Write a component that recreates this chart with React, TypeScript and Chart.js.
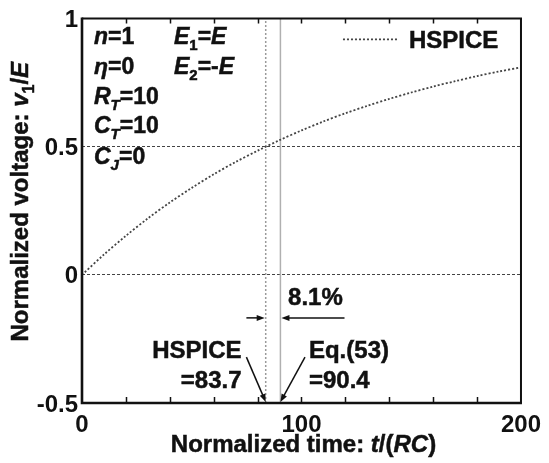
import React, { useEffect, useRef } from "react";
import { Chart, registerables } from "chart.js";

Chart.register(...registerables);

// ---- data ----
const timeValues = [0, 10, 20, 30, 40, 50, 60, 70, 80, 90, 100, 110, 120, 130, 140, 150, 160, 170, 180, 190, 200];
const hspiceVoltage = [0, 0.079, 0.152, 0.22, 0.282, 0.339, 0.392, 0.44, 0.484, 0.525, 0.563, 0.598, 0.63, 0.659, 0.686, 0.711, 0.734, 0.755, 0.775, 0.793, 0.809];
const xTickValues = [0, 100, 200];
const xMinorTicks = [20, 40, 60, 80, 100, 120, 140, 160, 180];
const yTickValues = [-0.5, 0, 0.5, 1];
const yGridValues = [0, 0.5];
const hspiceCrossing = 83.7;
const eqCrossing = 90.4;
const errorLabel = "8.1%";
const seriesLabel = "HSPICE";

type Run = { t: string; it?: boolean; sub?: boolean };

const FAMILY = '"Liberation Sans", Arial, Helvetica, sans-serif';
const TEXT = "#111";

function runFont(r: Run, size: number) {
  const s = r.sub ? Math.round(size * 0.66) : size;
  return `${r.it ? "italic " : ""}bold ${s}px ${FAMILY}`;
}

function drawRich(ctx: CanvasRenderingContext2D, runs: Run[], x: number, y: number, size: number, align: "left" | "center" | "right" = "left") {
  const widths = runs.map((r) => {
    ctx.font = runFont(r, size);
    return ctx.measureText(r.t).width;
  });
  const total = widths.reduce((a, b) => a + b, 0);
  let cx = align === "left" ? x : align === "center" ? x - total / 2 : x - total;
  ctx.textAlign = "left";
  ctx.textBaseline = "alphabetic";
  ctx.strokeStyle = ctx.fillStyle as string;
  ctx.lineWidth = 0.5;
  ctx.setLineDash([]);
  runs.forEach((r, i) => {
    ctx.font = runFont(r, size);
    const yy = y + (r.sub ? size * 0.25 : 0);
    ctx.fillText(r.t, cx, yy);
    ctx.strokeText(r.t, cx, yy);
    cx += widths[i];
  });
}

function arrow(ctx: CanvasRenderingContext2D, x1: number, y1: number, x2: number, y2: number) {
  const ang = Math.atan2(y2 - y1, x2 - x1);
  const hl = 8, hw = 3;
  ctx.beginPath();
  ctx.moveTo(x1, y1);
  ctx.lineTo(x2 - Math.cos(ang) * hl * 0.8, y2 - Math.sin(ang) * hl * 0.8);
  ctx.stroke();
  ctx.beginPath();
  ctx.moveTo(x2, y2);
  ctx.lineTo(x2 - Math.cos(ang) * hl - Math.sin(ang) * hw, y2 - Math.sin(ang) * hl + Math.cos(ang) * hw);
  ctx.lineTo(x2 - Math.cos(ang) * hl + Math.sin(ang) * hw, y2 - Math.sin(ang) * hl - Math.cos(ang) * hw);
  ctx.closePath();
  ctx.fill();
}

const paramRows: Run[][][] = [
  [[{ t: "n", it: true }, { t: "=1" }], [{ t: "E", it: true }, { t: "1", sub: true }, { t: "=" }, { t: "E", it: true }]],
  [[{ t: "η", it: true }, { t: "=0" }], [{ t: "E", it: true }, { t: "2", sub: true }, { t: "=-" }, { t: "E", it: true }]],
  [[{ t: "R", it: true }, { t: "T", it: true, sub: true }, { t: "=10" }]],
  [[{ t: "C", it: true }, { t: "T", it: true, sub: true }, { t: "=10" }]],
  [[{ t: "C", it: true }, { t: "J", it: true, sub: true }, { t: "=0" }]],
];

const overlayPlugin = {
  id: "overlay",
  afterDraw(chart: any) {
    const ctx: CanvasRenderingContext2D = chart.ctx;
    const { left, right, top, bottom } = chart.chartArea;
    const xs = chart.scales.x;
    const ys = chart.scales.y;
    ctx.save();

    // frame
    ctx.strokeStyle = "#111";
    ctx.setLineDash([]);
    ctx.lineWidth = 2;
    ctx.beginPath();
    ctx.moveTo(left, top);
    ctx.lineTo(right, top);
    ctx.lineTo(right, bottom);
    ctx.stroke();
    ctx.lineWidth = 2.6;
    ctx.beginPath();
    ctx.moveTo(left, top - 1);
    ctx.lineTo(left, bottom);
    ctx.lineTo(right + 1, bottom);
    ctx.stroke();

    // inward minor ticks
    ctx.lineWidth = 1.5;
    xMinorTicks.forEach((v) => {
      const px = Math.round(xs.getPixelForValue(v)) + 0.5;
      ctx.beginPath();
      ctx.moveTo(px, bottom);
      ctx.lineTo(px, bottom - 6);
      ctx.moveTo(px, top);
      ctx.lineTo(px, top + 5);
      ctx.stroke();
    });

    // parameters
    ctx.fillStyle = TEXT;
    const baselines = [26, 56, 86, 115, 146];
    paramRows.forEach((row, ri) => {
      row.forEach((cell, ci) => {
        drawRich(ctx, cell, left + (ci === 0 ? 12 : 92), top + baselines[ri], 23);
      });
    });

    // legend
    const ds = chart.data.datasets[0];
    ctx.strokeStyle = ds.borderColor;
    ctx.lineWidth = ds.borderWidth;
    ctx.setLineDash(ds.borderDash);
    ctx.beginPath();
    ctx.moveTo(right - 178, top + 21);
    ctx.lineTo(right - 122, top + 21);
    ctx.stroke();
    ctx.setLineDash([]);
    ctx.fillStyle = TEXT;
    drawRich(ctx, [{ t: ds.label }], right - 112, top + 30, 24);

    // annotations
    ctx.strokeStyle = "#111";
    ctx.fillStyle = "#111";
    ctx.lineWidth = 1.5;
    const ay = ys.getPixelForValue(-0.168);
    arrow(ctx, xs.getPixelForValue(74.9), ay, xs.getPixelForValue(hspiceCrossing) - 1, ay);
    arrow(ctx, xs.getPixelForValue(119.6), ay, xs.getPixelForValue(eqCrossing) + 1, ay);
    arrow(ctx, xs.getPixelForValue(74.9), ys.getPixelForValue(-0.321), xs.getPixelForValue(hspiceCrossing), bottom - 1);
    arrow(ctx, xs.getPixelForValue(101.6), ys.getPixelForValue(-0.321), xs.getPixelForValue(eqCrossing), bottom - 1);

    ctx.fillStyle = TEXT;
    drawRich(ctx, [{ t: errorLabel }], xs.getPixelForValue(93.9), ys.getPixelForValue(-0.119), 24);
    drawRich(ctx, [{ t: seriesLabel }], xs.getPixelForValue(72.7), ys.getPixelForValue(-0.325), 24, "right");
    drawRich(ctx, [{ t: "=" + hspiceCrossing.toFixed(1) }], xs.getPixelForValue(72.7), ys.getPixelForValue(-0.442), 24, "right");
    drawRich(ctx, [{ t: "Eq.(53)" }], xs.getPixelForValue(103.4), ys.getPixelForValue(-0.325), 24);
    drawRich(ctx, [{ t: "=" + eqCrossing.toFixed(1) }], xs.getPixelForValue(103.4), ys.getPixelForValue(-0.442), 24);

    // axis titles
    drawRich(
      ctx,
      [{ t: "Normalized time: " }, { t: "t", it: true }, { t: "/(" }, { t: "RC", it: true }, { t: ")" }],
      (left + right) / 2 + 2,
      452,
      24,
      "center"
    );
    ctx.save();
    ctx.translate(28, (top + bottom) / 2 - 9);
    ctx.rotate(-Math.PI / 2);
    drawRich(
      ctx,
      [{ t: "Normalized voltage: " }, { t: "v", it: true }, { t: "1", sub: true }, { t: "/" }, { t: "E", it: true }],
      0,
      0,
      24,
      "center"
    );
    ctx.restore();

    ctx.restore();
  },
};

export default function App() {
  const ref = useRef<HTMLCanvasElement | null>(null);

  useEffect(() => {
    if (!ref.current) return;
    const tickFont = { family: FAMILY, size: 24, weight: "bold" as const };
    const chart = new Chart(ref.current, {
      type: "line",
      data: {
        datasets: [
          {
            label: seriesLabel,
            data: timeValues.map((t, i) => ({ x: t, y: hspiceVoltage[i] })),
            borderColor: "#444",
            borderWidth: 1.8,
            borderDash: [2, 2],
            pointRadius: 0,
            tension: 0.3,
          },
          {
            label: "hspice-crossing",
            data: [
              { x: hspiceCrossing, y: yTickValues[0] },
              { x: hspiceCrossing, y: yTickValues[yTickValues.length - 1] },
            ],
            borderColor: "#9a9a9a",
            borderWidth: 1.5,
            borderDash: [2, 2],
            pointRadius: 0,
          },
          {
            label: "eq-crossing",
            data: [
              { x: eqCrossing, y: yTickValues[0] },
              { x: eqCrossing, y: yTickValues[yTickValues.length - 1] },
            ],
            borderColor: "#b0b0b0",
            borderWidth: 1.5,
            pointRadius: 0,
          },
        ],
      },
      options: {
        animation: false,
        responsive: false,
        layout: { padding: { top: 17, right: 24, left: 0, bottom: 0 } },
        plugins: { legend: { display: false }, tooltip: { enabled: false } },
        scales: {
          x: {
            type: "linear",
            min: xTickValues[0],
            max: xTickValues[xTickValues.length - 1],
            afterBuildTicks: (s: any) => {
              s.ticks = xTickValues.map((v) => ({ value: v }));
            },
            ticks: { font: tickFont, color: TEXT, padding: 8, maxRotation: 0, autoSkip: false, callback: (v: any) => String(v) },
            grid: { display: false, drawTicks: false },
            border: { display: false },
            afterFit: (s: any) => {
              s.height = 60;
            },
          },
          y: {
            type: "linear",
            min: yTickValues[0],
            max: yTickValues[yTickValues.length - 1],
            afterBuildTicks: (s: any) => {
              s.ticks = yTickValues.map((v) => ({ value: v }));
            },
            ticks: { font: tickFont, color: TEXT, padding: 4, labelOffset: 2, autoSkip: false, callback: (v: any) => String(v) },
            grid: {
              drawTicks: false,
              lineWidth: 1,
              color: (c: any) => (c.tick && yGridValues.includes(c.tick.value) ? "#444" : "rgba(0,0,0,0)"),
            },
            border: { display: false, dash: [3, 2] },
            afterFit: (s: any) => {
              s.width = 82;
            },
          },
        },
      },
      plugins: [overlayPlugin],
    } as any);
    return () => chart.destroy();
  }, []);

  return (
    <div style={{ position: "fixed", left: 0, top: 0, width: 549, height: 463, background: "#fff" }}>
      <canvas ref={ref} width={549} height={463} style={{ display: "block" }} />
    </div>
  );
}
